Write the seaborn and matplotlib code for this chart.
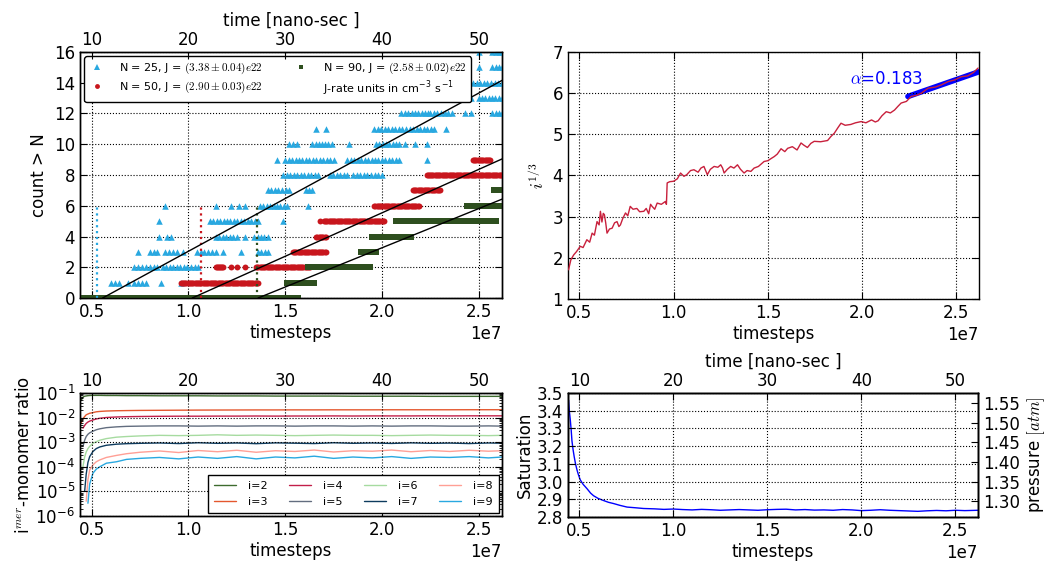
import numpy as np
import pandas as pd
import matplotlib
matplotlib.use("Agg")
import matplotlib.pyplot as plt
import seaborn as sns
from matplotlib.lines import Line2D
from matplotlib.ticker import LogLocator, NullFormatter, FormatStrFormatter

# ----------------------------- data -----------------------------
TS = 1e7              # timesteps are listed in units of 1e7
NS_PER_STEP = 2e-6    # nano-seconds per timestep
XLIM = (0.44, 2.62)

# (a) number of clusters larger than N: runs of constant count (count, t_start, t_end)
runs_n25 = [(1, 0.60, 0.64), (1, 0.69, 0.69), (1, 0.72, 0.78), (1, 0.86, 0.86), (1, 0.96, 0.96),
            (2, 0.72, 0.76), (2, 0.78, 0.84), (2, 0.87, 0.92), (2, 0.94, 1.05),
            (3, 0.74, 0.74), (3, 0.80, 0.84), (3, 0.88, 0.94), (3, 0.97, 0.97), (3, 1.045, 1.14),
            (3, 1.18, 1.18), (3, 1.27, 1.27), (3, 1.36, 1.41),
            (4, 0.85, 0.85), (4, 0.89, 0.91), (4, 1.14, 1.25), (4, 1.29, 1.29), (4, 1.34, 1.41),
            (5, 0.85, 0.85), (5, 1.11, 1.36), (5, 1.49, 1.49),
            (6, 0.88, 0.88), (6, 1.14, 1.14), (6, 1.22, 1.22), (6, 1.26, 1.26), (6, 1.29, 1.29),
            (6, 1.37, 1.51), (6, 1.62, 1.62),
            (7, 1.41, 1.52), (7, 1.61, 1.64),
            (8, 1.49, 1.67), (8, 1.73, 1.82), (8, 1.85, 1.98), (8, 2.00, 2.00),
            (9, 1.46, 1.46), (9, 1.50, 1.75), (9, 1.82, 2.09), (9, 2.23, 2.23),
            (10, 1.52, 1.56), (10, 1.64, 1.74), (10, 1.83, 1.83), (10, 1.97, 2.09), (10, 2.12, 2.12),
            (10, 2.17, 2.17), (10, 2.23, 2.23),
            (11, 1.66, 1.66), (11, 1.71, 1.71), (11, 1.96, 2.27), (11, 2.33, 2.33),
            (12, 2.10, 2.24), (12, 2.25, 2.36), (12, 2.43, 2.43), (12, 2.46, 2.46), (12, 2.57, 2.62),
            (13, 2.14, 2.17), (13, 2.26, 2.29), (13, 2.35, 2.46), (13, 2.50, 2.62),
            (14, 2.47, 2.62), (15, 2.50, 2.50), (15, 2.57, 2.62), (16, 2.50, 2.50), (16, 2.57, 2.62)]
runs_n50 = [(0, 0.44, 0.96), (1, 0.96, 1.36),
            (2, 1.14, 1.18), (2, 1.22, 1.22), (2, 1.25, 1.25), (2, 1.29, 1.29), (2, 1.35, 1.63),
            (3, 1.54, 1.71), (4, 1.66, 1.71), (5, 1.68, 1.68), (5, 1.70, 2.01),
            (6, 1.96, 2.19), (7, 2.16, 2.30), (8, 2.23, 2.62), (9, 2.47, 2.56)]
runs_n90 = [(0, 0.44, 1.565), (1, 1.51, 1.65), (2, 1.62, 1.94), (3, 1.89, 1.97),
            (4, 1.95, 2.15), (5, 2.07, 2.59), (6, 2.44, 2.63), (7, 2.58, 2.63)]
labels_n = ["N = 25, J = $(3.38\\pm0.04)e22$",
            "N = 50, J = $(2.90\\pm0.03)e22$",
            "N = 90, J = $(2.58\\pm0.02)e22$",
            "J-rate units in cm$^{\\mathdefault{-3}}$ s$^{\\mathdefault{-1}}$"]
fit_t0 = [0.557, 1.02, 1.36]      # fitted nucleation lines: start (count 0)
fit_t1 = [2.63, 2.63, 2.63]       # ... end
fit_c1 = [14.22, 9.1, 6.48]       # ... count at end
onset_t = [0.53, 1.065, 1.355]    # dotted onset markers
onset_c = [6, 6, 6]

# (b) cube root of largest cluster size
radius_trace = [(0.443, 1.71), (0.455, 1.95), (0.47, 2.07), (0.485, 2.15), (0.505, 2.28), (0.52, 2.25),
                (0.54, 2.44), (0.555, 2.38), (0.568, 2.60), (0.58, 2.55), (0.594, 2.88), (0.605, 2.80),
                (0.612, 3.13), (0.62, 2.87), (0.627, 3.08), (0.633, 3.05), (0.64, 2.85), (0.647, 2.60),
                (0.66, 2.70), (0.674, 2.72), (0.687, 2.85), (0.70, 2.88), (0.71, 2.76), (0.718, 2.80),
                (0.73, 2.95), (0.745, 3.09), (0.757, 3.02), (0.77, 3.25), (0.785, 3.18), (0.805, 3.20),
                (0.82, 3.12), (0.842, 3.13), (0.855, 3.20), (0.868, 3.07), (0.878, 3.30), (0.886, 3.25),
                (0.90, 3.18), (0.913, 3.33), (0.935, 3.30), (0.957, 3.37), (0.962, 3.30), (0.966, 3.82),
                (0.98, 3.85), (1.00, 3.86), (1.02, 3.92), (1.037, 4.06), (1.055, 3.98), (1.07, 4.02),
                (1.09, 4.12), (1.108, 4.14), (1.13, 4.08), (1.145, 4.18), (1.161, 4.22), (1.17, 4.12),
                (1.179, 4.02), (1.195, 4.15), (1.215, 4.22), (1.235, 4.20), (1.25, 4.26), (1.26, 4.18),
                (1.268, 4.06), (1.285, 4.15), (1.303, 4.22), (1.32, 4.18), (1.339, 4.26), (1.355, 4.15),
                (1.374, 4.06), (1.39, 4.12), (1.41, 4.10), (1.427, 4.18), (1.45, 4.22), (1.465, 4.28),
                (1.48, 4.34), (1.50, 4.36), (1.52, 4.42), (1.534, 4.46), (1.55, 4.52), (1.57, 4.65),
                (1.59, 4.58), (1.605, 4.66), (1.63, 4.70), (1.655, 4.62), (1.676, 4.79), (1.69, 4.74),
                (1.71, 4.68), (1.728, 4.78), (1.746, 4.83), (1.78, 4.82), (1.817, 4.85), (1.835, 4.95),
                (1.853, 5.03), (1.87, 5.15), (1.888, 5.27), (1.91, 5.22), (1.94, 5.24), (1.965, 5.28),
                (1.995, 5.31), (2.02, 5.28), (2.05, 5.35), (2.07, 5.30), (2.085, 5.33), (2.105, 5.45),
                (2.128, 5.55), (2.15, 5.52), (2.172, 5.59), (2.19, 5.68), (2.207, 5.76), (2.235, 5.80),
                (2.26, 5.92), (2.29, 5.95), (2.314, 6.00), (2.35, 6.12), (2.39, 6.15), (2.42, 6.20),
                (2.456, 6.28), (2.49, 6.32), (2.527, 6.40), (2.56, 6.42), (2.59, 6.50), (2.615, 6.61)]
growth_fit_t = [2.243, 2.62]
growth_fit_v = [5.92, 6.52]
growth_label = "$\\alpha$=0.183"

# (c) i-mer to monomer ratio
mer_t = [0.446, 0.455, 0.464, 0.472, 0.481, 0.49, 0.507, 0.524, 0.542, 0.576, 0.628, 0.68, 0.75, 0.85,
         0.95, 1.05, 1.15, 1.25, 1.35, 1.45, 1.55, 1.65, 1.75, 1.85, 1.95, 2.05, 2.15, 2.25, 2.35, 2.45,
         2.55, 2.62]
nan = np.nan
mer_i2 = [0.05, 0.068, 0.074, 0.076, 0.078, 0.079, 0.08, 0.08, 0.08, 0.079, 0.079, 0.078, 0.078, 0.077,
          0.077, 0.077, 0.076, 0.076, 0.076, 0.075, 0.075, 0.075, 0.075, 0.074, 0.074, 0.074, 0.074, 0.073,
          0.073, 0.073, 0.073, 0.073]
mer_i3 = [0.006, 0.009, 0.011, 0.013, 0.014, 0.015, 0.016, 0.0172, 0.0178, 0.0185, 0.019, 0.0193, 0.0196,
          0.0198, 0.0200, 0.0202, 0.0203, 0.0204, 0.0205, 0.0205, 0.0206, 0.0206, 0.0207, 0.0207, 0.0207,
          0.0208, 0.0208, 0.0208, 0.0208, 0.0209, 0.0209, 0.0209]
mer_i4 = [nan, 0.0037, 0.0048, 0.0058, 0.0066, 0.0072, 0.0080, 0.0088, 0.0094, 0.0101, 0.0106, 0.0109,
          0.0111, 0.0113, 0.0114, 0.0114, 0.0115, 0.0115, 0.0116, 0.0115, 0.0116, 0.0116, 0.0117, 0.0116,
          0.0117, 0.0117, 0.0117, 0.0118, 0.0117, 0.0118, 0.0118, 0.0118]
mer_i5 = [nan, 0.00066, 0.0012, 0.0017, 0.0021, 0.0024, 0.0028, 0.0032, 0.0035, 0.0039, 0.0042, 0.0044,
          0.0045, 0.0046, 0.0046, 0.0045, 0.0046, 0.0045, 0.0046, 0.0046, 0.0045, 0.0046, 0.0046, 0.0045,
          0.0046, 0.0045, 0.0046, 0.0046, 0.0045, 0.0045, 0.0046, 0.0045]
mer_i6 = [nan, 0.0001, 0.00025, 0.0004, 0.00055, 0.00068, 0.0009, 0.00105, 0.0012, 0.0014, 0.0016, 0.0017,
          0.0018, 0.0019, 0.00185, 0.0019, 0.0020, 0.0019, 0.00195, 0.0019, 0.00185, 0.0019, 0.00195,
          0.0019, 0.0019, 0.00185, 0.0019, 0.00195, 0.0019, 0.0019, 0.00185, 0.0019]
mer_i7 = [nan, nan, 1.0e-5, 5e-5, 1.5e-4, 2.6e-4, 4.2e-4, 5.5e-4, 6.4e-4, 7.5e-4, 8.3e-4, 8.7e-4, 9.0e-4,
          9.3e-4, 8.8e-4, 9.5e-4, 9.0e-4, 9.3e-4, 8.7e-4, 9.4e-4, 9.1e-4, 8.8e-4, 9.5e-4, 9.0e-4, 9.3e-4,
          8.9e-4, 9.4e-4, 9.0e-4, 9.2e-4, 8.8e-4, 9.3e-4, 9.1e-4]
mer_i8 = [nan, nan, nan, 4e-6, 3e-5, 7.4e-5, 1.2e-4, 1.6e-4, 1.9e-4, 2.4e-4, 2.9e-4, 3.4e-4, 3.9e-4,
          4.4e-4, 3.8e-4, 4.6e-4, 4.1e-4, 4.7e-4, 3.9e-4, 4.5e-4, 4.2e-4, 4.8e-4, 4.0e-4, 4.5e-4, 4.3e-4,
          4.8e-4, 4.1e-4, 4.6e-4, 4.2e-4, 4.7e-4, 4.3e-4, 4.5e-4]
mer_i9 = [nan, nan, nan, nan, 3.3e-6, 2.0e-5, 5.5e-5, 8e-5, 1.0e-4, 1.4e-4, 1.6e-4, 2.0e-4, 2.2e-4,
          2.4e-4, 2.1e-4, 2.5e-4, 2.2e-4, 2.6e-4, 2.1e-4, 2.5e-4, 2.3e-4, 2.7e-4, 2.2e-4, 2.5e-4, 2.3e-4,
          2.6e-4, 2.2e-4, 2.5e-4, 2.4e-4, 2.6e-4, 2.3e-4, 2.5e-4]
mer_names = ["i=2", "i=3", "i=4", "i=5", "i=6", "i=7", "i=8", "i=9"]
mer_decades = [1e-6, 1e-5, 1e-4, 1e-3, 1e-2, 1e-1]

# (d) saturation
sat_trace = [(0.443, 3.46), (0.447, 3.40), (0.452, 3.35), (0.457, 3.29), (0.461, 3.23), (0.467, 3.18),
             (0.473, 3.14), (0.48, 3.10), (0.488, 3.065), (0.495, 3.04), (0.505, 3.01), (0.52, 2.985),
             (0.541, 2.96), (0.56, 2.935), (0.576, 2.92), (0.60, 2.905), (0.629, 2.893), (0.655, 2.883),
             (0.682, 2.876), (0.715, 2.866), (0.754, 2.856), (0.80, 2.852), (0.842, 2.848), (0.90, 2.846),
             (0.95, 2.843), (1.0, 2.845), (1.05, 2.842), (1.1, 2.840), (1.15, 2.843), (1.2, 2.841),
             (1.25, 2.838), (1.3, 2.840), (1.35, 2.842), (1.4, 2.840), (1.45, 2.838), (1.5, 2.841),
             (1.55, 2.843), (1.6, 2.844), (1.65, 2.840), (1.7, 2.842), (1.75, 2.839), (1.8, 2.840),
             (1.85, 2.838), (1.9, 2.842), (1.95, 2.840), (2.0, 2.836), (2.05, 2.838), (2.1, 2.841),
             (2.15, 2.838), (2.2, 2.836), (2.25, 2.834), (2.3, 2.832), (2.35, 2.835), (2.4, 2.837),
             (2.45, 2.835), (2.5, 2.838), (2.55, 2.836), (2.62, 2.838)]
ATM_PER_SAT = 0.45   # pressure [atm] per unit saturation

# ----------------------------- style -----------------------------
C25, C50, C90 = "#29a8e0", "#c8161d", "#2e4f1f"
MER_COLORS = ["#3e6b2f", "#e4572e", "#c21f4a", "#626d7f", "#a6dba0", "#0d3b5e", "#ff9f95", "#29a8e0"]
RAD_COLOR = "#c8203c"

sns.set_style("ticks")
plt.rcParams.update({
    "font.family": ["DejaVu Sans"],
    "mathtext.fontset": "cm",
    "axes.unicode_minus": False,
    "xtick.direction": "in", "ytick.direction": "in",
    "xtick.major.size": 5, "ytick.major.size": 5,
    "xtick.minor.size": 2.5, "ytick.minor.size": 2.5,
    "xtick.major.width": 0.8, "ytick.major.width": 0.8,
    "xtick.labelsize": 12, "ytick.labelsize": 12,
    "axes.labelsize": 12,
    "axes.edgecolor": "k", "axes.linewidth": 1.0,
    "xtick.color": "k", "ytick.color": "k",
    "axes.labelcolor": "k", "text.color": "k",
})

W, H = 1056, 563
fig = plt.figure(figsize=(W / 100, H / 100), dpi=100)


def px_axes(l, r, t, b):
    return fig.add_axes([l / W, 1 - b / H, (r - l) / W, (b - t) / H])


def base_style(ax):
    ax.grid(True, linestyle=":", color="k", linewidth=0.8)
    ax.set_axisbelow(False)
    ax.tick_params(which="both", direction="in", top=True, right=True)
    ax.set_xlim(XLIM[0] * TS, XLIM[1] * TS)
    ax.set_xticks(np.array([0.5, 1.0, 1.5, 2.0, 2.5]) * TS)
    ax.set_xlabel("timesteps", labelpad=2)


def time_axis(ax, label=True):
    tw = ax.twiny()
    lo, hi = ax.get_xlim()
    tw.set_xlim(lo * NS_PER_STEP, hi * NS_PER_STEP)
    tw.set_xticks([10, 20, 30, 40, 50])
    tw.tick_params(direction="in", pad=2)
    if label:
        tw.set_xlabel("time [nano-sec ]", labelpad=4)
    return tw


def expand(runs, step):
    xs, ys = [], []
    for c, a, b in runs:
        n = max(1, int(round((b - a) / step)) + 1)
        for v in np.linspace(a, b, n):
            xs.append(v * TS)
            ys.append(c)
    return pd.DataFrame({"t": xs, "count": ys})

# ----------------------------- (a) -----------------------------
axA = px_axes(80, 502, 52, 298)
base_style(axA)
for runs, col, mk, s, step in [(runs_n25, C25, "^", 22, 0.018),
                                (runs_n50, C50, "o", 18, 0.006),
                                (runs_n90, C90, "s", 24, 0.006)]:
    sns.scatterplot(data=expand(runs, step), x="t", y="count", marker=mk, color=col, s=s,
                    linewidth=0, ax=axA, legend=False, zorder=3)
for t, c, col in zip(onset_t, onset_c, [C25, C50, C90]):
    sns.lineplot(x=[t * TS, t * TS], y=[0, c], color=col, linestyle=":", linewidth=1.6, ax=axA,
                 estimator=None, sort=False, legend=False, zorder=4)
for t0, t1, c1 in zip(fit_t0, fit_t1, fit_c1):
    sns.lineplot(x=[t0 * TS, t1 * TS], y=[0, c1], color="k", linewidth=1.0, ax=axA, legend=False,
                 estimator=None, sort=False, zorder=5)
axA.set_ylim(0, 16)
axA.set_yticks(range(0, 17, 2))
axA.set_ylabel("count > N", labelpad=4)
axA.set_xlim(XLIM[0] * TS, XLIM[1] * TS)
handles = [Line2D([], [], marker="^", ls="none", color=C25, ms=4, mew=0),
           Line2D([], [], marker="o", ls="none", color=C50, ms=3.5, mew=0),
           Line2D([], [], marker="s", ls="none", color=C90, ms=3.5, mew=0),
           Line2D([], [], ls="none")]
legA = axA.legend(handles, labels_n, loc="upper left", ncol=2, fontsize=8, frameon=True,
                  fancybox=True, edgecolor="k", framealpha=1, borderaxespad=0.4,
                  columnspacing=2.6, handletextpad=1.3, handlelength=1.5, labelspacing=0.35,
                  borderpad=0.35)
legA.get_frame().set_linewidth(1.0)
legA.set_zorder(10)
time_axis(axA, label=True)

# ----------------------------- (b) -----------------------------
axB = px_axes(568, 979, 52, 299)
base_style(axB)
rad = pd.DataFrame(radius_trace, columns=["t", "v"])
rad["t"] = rad["t"] * TS
sns.lineplot(x=np.array(growth_fit_t) * TS, y=growth_fit_v, color="b", linewidth=4, ax=axB,
             estimator=None, sort=False, legend=False, zorder=2)
sns.lineplot(data=rad, x="t", y="v", color=RAD_COLOR, linewidth=1.0, ax=axB, sort=False,
             estimator=None, legend=False, zorder=3)
axB.set_ylim(1, 7)
axB.set_yticks(range(1, 8))
axB.set_ylabel("$i^{1/3}$", labelpad=3)
axB.text(2.128 * TS, 6.35, growth_label, color="b", fontsize=12, ha="center", va="center")

# ----------------------------- (c) -----------------------------
axC = px_axes(80, 502, 393, 516)
base_style(axC)
axC.set_yscale("log")
rows = []
for name, vals in zip(mer_names, [mer_i2, mer_i3, mer_i4, mer_i5, mer_i6, mer_i7, mer_i8, mer_i9]):
    for t, v in zip(mer_t, vals):
        rows.append((t * TS, v, name))
mer = pd.DataFrame(rows, columns=["t", "ratio", "i"])
sns.lineplot(data=mer, x="t", y="ratio", hue="i", hue_order=mer_names,
             palette=dict(zip(mer_names, MER_COLORS)), linewidth=1.0, ax=axC, sort=False,
             estimator=None, legend=False)
axC.set_ylim(1e-6, 1e-1)
axC.set_yticks(mer_decades)
axC.yaxis.set_minor_locator(LogLocator(base=10, subs=np.arange(2, 10), numticks=20))
axC.yaxis.set_minor_formatter(NullFormatter())
axC.set_xlim(XLIM[0] * TS, XLIM[1] * TS)
axC.set_ylabel("i$^{mer}$-monomer ratio", labelpad=2)
handlesC = [Line2D([], [], color=c, lw=1.0) for c in MER_COLORS]
legC = axC.legend(handlesC, mer_names, loc="lower right", ncol=4, fontsize=8, frameon=True,
                  fancybox=False, edgecolor="k", framealpha=1, borderaxespad=0.3,
                  columnspacing=1.9, handlelength=2.0, handletextpad=1.1, labelspacing=0.55,
                  borderpad=0.5)
legC.get_frame().set_linewidth(1.0)
time_axis(axC, label=False)

# ----------------------------- (d) -----------------------------
axD = px_axes(568, 978, 393, 517)
base_style(axD)
sat = pd.DataFrame(sat_trace, columns=["t", "S"])
sat["t"] = sat["t"] * TS
sns.lineplot(data=sat, x="t", y="S", color="b", linewidth=1.0, ax=axD, sort=False,
             estimator=None, legend=False)
axD.set_ylim(2.8, 3.5)
axD.set_yticks(np.arange(2.8, 3.51, 0.1))
axD.set_ylabel("Saturation", labelpad=2)
pr = axD.twinx()
pr.set_ylim(2.8 * ATM_PER_SAT, 3.5 * ATM_PER_SAT)
pr.set_yticks([1.30, 1.35, 1.40, 1.45, 1.50, 1.55])
pr.yaxis.set_major_formatter(FormatStrFormatter("%.2f"))
pr.tick_params(direction="in")
pr.set_ylabel("pressure $[atm]$", labelpad=4)
time_axis(axD, label=True)

fig.savefig("out.png", dpi=100)
